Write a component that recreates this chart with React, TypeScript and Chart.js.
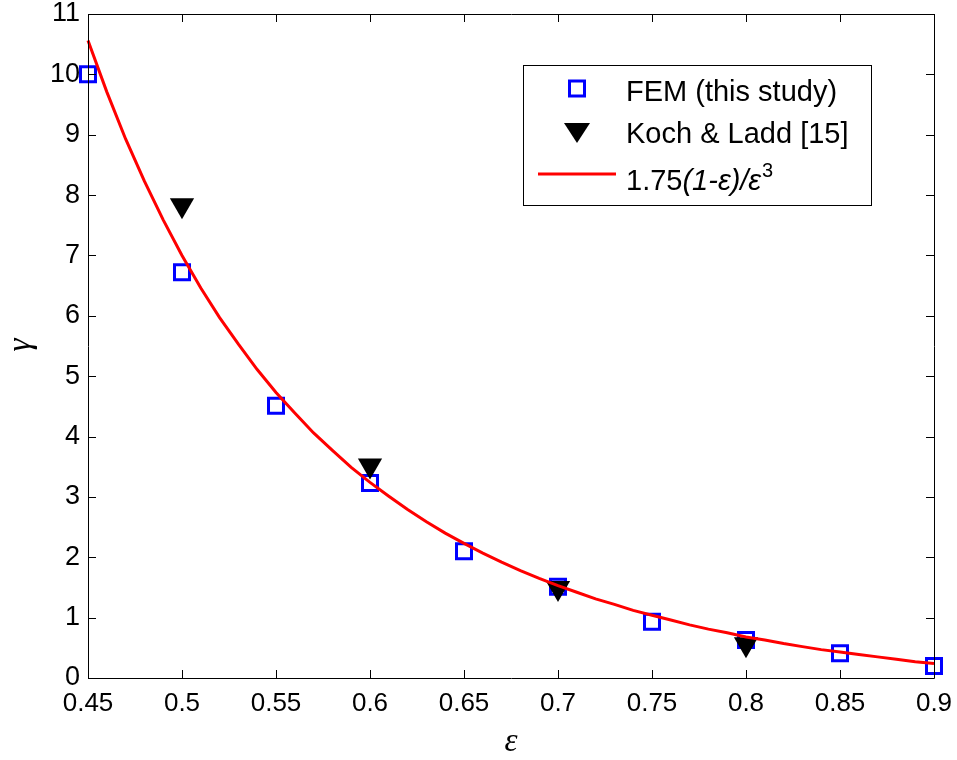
import React, { useEffect, useRef } from "react";
import { Chart, registerables } from "chart.js";

Chart.register(...registerables);

const femX = [0.45, 0.5, 0.55, 0.6, 0.65, 0.7, 0.75, 0.8, 0.85, 0.9];
const femY = [10.0, 6.72, 4.51, 3.23, 2.1, 1.51, 0.93, 0.63, 0.41, 0.2];

const kochX = [0.5, 0.6, 0.7, 0.8];
const kochY = [7.83, 3.52, 1.49, 0.56];

const curveX = [
  0.45, 0.46, 0.47, 0.48, 0.49, 0.5, 0.51, 0.52, 0.53, 0.54, 0.55, 0.56, 0.57, 0.58, 0.59,
  0.6, 0.61, 0.62, 0.63, 0.64, 0.65, 0.66, 0.67, 0.68, 0.69, 0.7, 0.71, 0.72, 0.73, 0.74,
  0.75, 0.76, 0.77, 0.78, 0.79, 0.8, 0.81, 0.82, 0.83, 0.84, 0.85, 0.86, 0.87, 0.88, 0.89, 0.9,
];
const curveY = [
  10.56, 9.71, 8.93, 8.23, 7.59, 7.0, 6.46, 5.97, 5.53, 5.11, 4.73, 4.39, 4.06, 3.77, 3.49,
  3.24, 3.01, 2.79, 2.59, 2.4, 2.23, 2.07, 1.92, 1.78, 1.65, 1.53, 1.42, 1.31, 1.22, 1.12,
  1.04, 0.96, 0.88, 0.81, 0.75, 0.68, 0.63, 0.57, 0.52, 0.47, 0.43, 0.39, 0.35, 0.31, 0.27, 0.24,
];

const xTicks = [0.45, 0.5, 0.55, 0.6, 0.65, 0.7, 0.75, 0.8, 0.85, 0.9];
const yTicks = [0, 1, 2, 3, 4, 5, 6, 7, 8, 9, 10, 11];

const legendLabels = ["FEM (this study)", "Koch & Ladd [15]", "1.75", "(1-ε)/ε", "3"];

const SANS = '"Liberation Sans", Arial, sans-serif';
const SERIF = '"Liberation Serif", "Times New Roman", serif';

const framePlugin = {
  id: "frame",
  afterDatasetsDraw(chart: any) {
    const { ctx, chartArea: a, scales } = chart;
    const xs = scales.x;
    const ys = scales.y;
    const tl = 8;
    ctx.save();
    ctx.strokeStyle = "#000";
    ctx.lineWidth = 1;
    ctx.beginPath();
    xTicks.forEach((v) => {
      const px = Math.round(xs.getPixelForValue(v)) + 0.5;
      ctx.moveTo(px, a.bottom);
      ctx.lineTo(px, a.bottom - tl);
      ctx.moveTo(px, a.top);
      ctx.lineTo(px, a.top + tl);
    });
    yTicks.forEach((v) => {
      const py = Math.round(ys.getPixelForValue(v)) + 0.5;
      ctx.moveTo(a.left, py);
      ctx.lineTo(a.left + tl, py);
      ctx.moveTo(a.right, py);
      ctx.lineTo(a.right - tl, py);
    });
    ctx.stroke();
    ctx.beginPath();
    ctx.rect(Math.round(a.left) + 0.5, Math.round(a.top) + 0.5, Math.round(a.right - a.left), Math.round(a.bottom - a.top));
    ctx.stroke();

    // legend
    const lx = 523, ly = 65, lw = 348, lh = 140;
    ctx.fillStyle = "#fff";
    ctx.fillRect(lx, ly, lw, lh);
    ctx.strokeStyle = "#000";
    ctx.lineWidth = 1;
    ctx.strokeRect(lx + 0.5, ly + 0.5, lw, lh);

    const mx = 577;
    ctx.strokeStyle = "#0000ff";
    ctx.lineWidth = 3;
    ctx.strokeRect(mx - 7.5, 81, 15, 15);
    ctx.fillStyle = "#000";
    ctx.beginPath();
    ctx.moveTo(mx - 13, 123);
    ctx.lineTo(mx + 13, 123);
    ctx.lineTo(mx, 143);
    ctx.closePath();
    ctx.fill();
    ctx.strokeStyle = "#ff0000";
    ctx.lineWidth = 3;
    ctx.beginPath();
    ctx.moveTo(538, 174);
    ctx.lineTo(616, 174);
    ctx.stroke();

    ctx.fillStyle = "#000";
    ctx.textBaseline = "alphabetic";
    ctx.textAlign = "left";
    ctx.font = `29px ${SANS}`;
    const tx = 626;
    ctx.fillText(legendLabels[0], tx, 101);
    ctx.fillText(legendLabels[1], tx, 143);
    ctx.fillText(legendLabels[2], tx, 190);
    let cx = tx + ctx.measureText(legendLabels[2]).width;
    ctx.font = `italic 29px ${SANS}`;
    ctx.fillText(legendLabels[3], cx, 190);
    cx += ctx.measureText(legendLabels[3]).width + 1;
    ctx.font = `20px ${SANS}`;
    ctx.fillText(legendLabels[4], cx, 177);

    // axis titles
    ctx.font = `italic 33px ${SERIF}`;
    ctx.textAlign = "center";
    ctx.textBaseline = "middle";
    ctx.fillText("ε", 511, 742);
    ctx.save();
    ctx.translate(24, 345);
    ctx.rotate(-Math.PI / 2);
    ctx.fillText("γ", 0, -3);
    ctx.restore();
    ctx.restore();
  },
};

export default function App() {
  const ref = useRef<HTMLCanvasElement | null>(null);
  useEffect(() => {
    if (!ref.current) return;
    const chart = new Chart(ref.current, {
      type: "scatter",
      data: {
        datasets: [
          {
            label: "curve",
            data: curveX.map((x, i) => ({ x, y: curveY[i] })),
            showLine: true,
            borderColor: "#ff0000",
            borderWidth: 3,
            pointRadius: 0,
            fill: false,
            order: 0,
          },
          {
            label: "Koch",
            data: kochX.map((x, i) => ({ x, y: kochY[i] })),
            pointStyle: "triangle",
            rotation: 180,
            pointRadius: 14,
            backgroundColor: "#000",
            borderColor: "#000",
            borderWidth: 0,
            order: 1,
          },
          {
            label: "FEM",
            data: femX.map((x, i) => ({ x, y: femY[i] })),
            pointStyle: "rect",
            pointRadius: 10.6,
            backgroundColor: "rgba(0,0,0,0)",
            borderColor: "#0000ff",
            borderWidth: 3,
            order: 2,
          },
        ],
      },
      options: {
        animation: false,
        responsive: false,
        maintainAspectRatio: false,
        clip: false,
        layout: { padding: { left: 0, right: 23, top: 14, bottom: 0 } },
        plugins: { legend: { display: false }, tooltip: { enabled: false } },
        scales: {
          x: {
            type: "linear",
            min: 0.45,
            max: 0.9,
            afterBuildTicks: (s: any) => {
              s.ticks = xTicks.map((v) => ({ value: v }));
            },
            afterFit: (s: any) => {
              s.height = 82;
              s.paddingLeft = 0;
              s.paddingRight = 0;
            },
            grid: { display: false, drawTicks: false },
            border: { display: false },
            ticks: {
              color: "#000",
              padding: 10,
              maxRotation: 0,
              autoSkip: false,
              font: { family: SANS, size: 26 },
              callback: (v: any) => String(Number(v)),
            },
          },
          y: {
            type: "linear",
            min: 0,
            max: 11,
            afterBuildTicks: (s: any) => {
              s.ticks = yTicks.map((v) => ({ value: v }));
            },
            afterFit: (s: any) => {
              s.width = 88;
              s.paddingTop = 0;
              s.paddingBottom = 0;
            },
            grid: { display: false, drawTicks: false },
            border: { display: false },
            ticks: {
              color: "#000",
              padding: 8,
              autoSkip: false,
              font: { family: SANS, size: 27 },
              callback: (v: any) => String(Number(v)),
            },
          },
        },
      },
      plugins: [framePlugin],
    } as any);
    return () => chart.destroy();
  }, []);
  return (
    <div style={{ position: "fixed", left: 0, top: 0, width: 957, height: 760, background: "#fff" }}>
      <canvas ref={ref} width={957} height={760} style={{ width: 957, height: 760, display: "block" }} />
    </div>
  );
}
